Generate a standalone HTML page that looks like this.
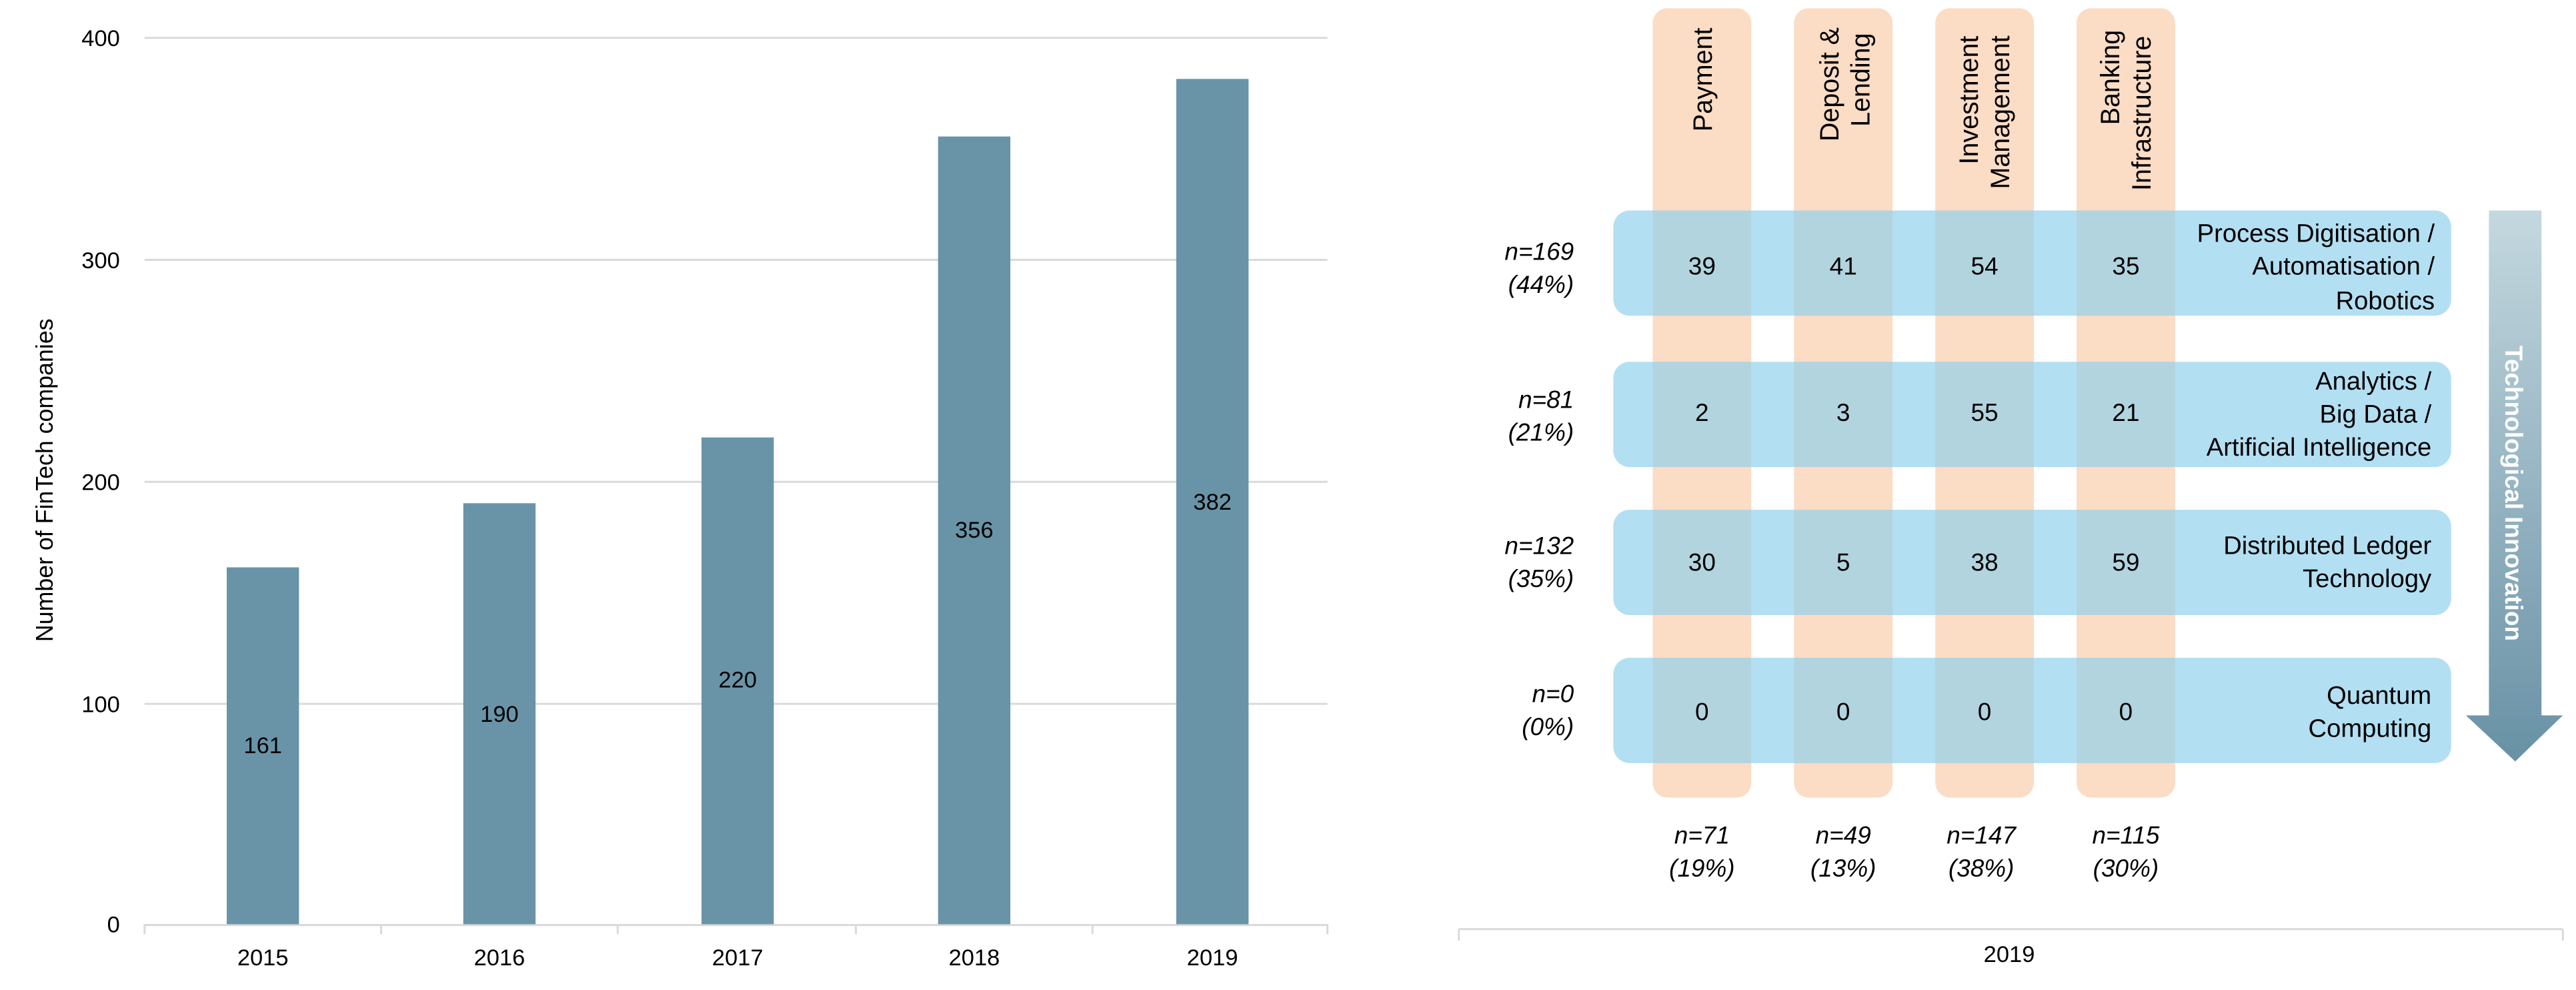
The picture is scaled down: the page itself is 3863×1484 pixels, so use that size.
<!DOCTYPE html>
<html><head><meta charset="utf-8"><style>
html,body{margin:0;padding:0;background:#fff;}
svg{display:block;}
text{font-family:"Liberation Sans",sans-serif;fill:#000;}
</style></head><body>
<svg width="3863" height="1484" viewBox="0 0 1568 602" preserveAspectRatio="none" xmlns="http://www.w3.org/2000/svg">
<defs>
<linearGradient id="ag" x1="0" y1="0" x2="0" y2="1">
<stop offset="0" stop-color="#c4d8df"/><stop offset="1" stop-color="#6891a5"/>
</linearGradient>
</defs>
<g stroke="#d9d9d9" stroke-width="1.2">
<line x1="88" y1="23" x2="808" y2="23"/>
<line x1="88" y1="158" x2="808" y2="158"/>
<line x1="88" y1="293" x2="808" y2="293"/>
<line x1="88" y1="428" x2="808" y2="428"/>
<line x1="88" y1="562.5" x2="808" y2="562.5"/>
<line x1="88" y1="562" x2="88" y2="568"/>
<line x1="232" y1="562" x2="232" y2="568"/>
<line x1="376" y1="562" x2="376" y2="568"/>
<line x1="521" y1="562" x2="521" y2="568"/>
<line x1="665" y1="562" x2="665" y2="568"/>
<line x1="808" y1="562" x2="808" y2="568"/>
</g>
<g font-size="14" text-anchor="end">
<text x="73" y="28">400</text><text x="73" y="163">300</text><text x="73" y="298">200</text><text x="73" y="433">100</text><text x="73" y="567">0</text>
</g>
<text transform="translate(32,292) rotate(-90)" font-size="14.5" text-anchor="middle">Number of FinTech companies</text>
<g fill="#6994a8">
<rect x="138" y="345" width="44" height="217"/>
<rect x="282" y="306" width="44" height="256"/>
<rect x="427" y="266" width="44" height="296"/>
<rect x="571" y="83" width="44" height="479"/>
<rect x="716" y="48" width="44" height="514"/>
</g>
<g font-size="14" text-anchor="middle">
<text x="160" y="458">161</text><text x="304" y="439">190</text><text x="449" y="418">220</text><text x="593" y="327">356</text><text x="738" y="310">382</text>
<text x="160" y="587">2015</text><text x="304" y="587">2016</text><text x="449" y="587">2017</text><text x="593" y="587">2018</text><text x="738" y="587">2019</text>
</g>
<g fill="#fbdcc4">
<rect x="1006" y="5" width="60" height="480" rx="9"/>
<rect x="1092" y="5" width="60" height="480" rx="9"/>
<rect x="1178" y="5" width="60" height="480" rx="9"/>
<rect x="1264" y="5" width="60" height="480" rx="9"/>
</g>
<g fill="rgb(143,208,236)" fill-opacity="0.68">
<rect x="982" y="128" width="510" height="64" rx="10"/>
<rect x="982" y="220" width="510" height="64" rx="10"/>
<rect x="982" y="310" width="510" height="64" rx="10"/>
<rect x="982" y="400" width="510" height="64" rx="10"/>
</g>
<g font-size="16">
<text transform="translate(1042,80) rotate(-90)">Payment</text>
<text transform="translate(1119,86) rotate(-90)">Deposit &amp;</text>
<text transform="translate(1138,77) rotate(-90)">Lending</text>
<text transform="translate(1204,100) rotate(-90)">Investment</text>
<text transform="translate(1223,115) rotate(-90)">Management</text>
<text transform="translate(1290,76) rotate(-90)">Banking</text>
<text transform="translate(1309,116) rotate(-90)">Infrastructure</text>
</g>
<g font-size="15" text-anchor="middle">
<text x="1036" y="167">39</text><text x="1122" y="167">41</text><text x="1208" y="167">54</text><text x="1294" y="167">35</text>
<text x="1036" y="256">2</text><text x="1122" y="256">3</text><text x="1208" y="256">55</text><text x="1294" y="256">21</text>
<text x="1036" y="347">30</text><text x="1122" y="347">5</text><text x="1208" y="347">38</text><text x="1294" y="347">59</text>
<text x="1036" y="438">0</text><text x="1122" y="438">0</text><text x="1208" y="438">0</text><text x="1294" y="438">0</text>
</g>
<g font-size="15.5" text-anchor="end">
<text x="1482" y="147">Process Digitisation /</text>
<text x="1482" y="167">Automatisation /</text>
<text x="1482" y="188">Robotics</text>
<text x="1480" y="237">Analytics /</text>
<text x="1480" y="257">Big Data /</text>
<text x="1480" y="277">Artificial Intelligence</text>
<text x="1480" y="337">Distributed Ledger</text>
<text x="1480" y="357">Technology</text>
<text x="1480" y="428">Quantum</text>
<text x="1480" y="448">Computing</text>
</g>
<g font-size="15" font-style="italic" text-anchor="end">
<text x="958" y="158">n=169</text><text x="958" y="178">(44%)</text>
<text x="958" y="248">n=81</text><text x="958" y="268">(21%)</text>
<text x="958" y="337">n=132</text><text x="958" y="357">(35%)</text>
<text x="958" y="427">n=0</text><text x="958" y="447">(0%)</text>
</g>
<g font-size="15" font-style="italic" text-anchor="middle">
<text x="1036" y="513">n=71</text><text x="1036" y="533">(19%)</text>
<text x="1122" y="513">n=49</text><text x="1122" y="533">(13%)</text>
<text x="1206" y="513">n=147</text><text x="1206" y="533">(38%)</text>
<text x="1294" y="513">n=115</text><text x="1294" y="533">(30%)</text>
</g>
<polygon points="1515,128 1547,128 1547,435 1560,435 1531,463 1501,435 1515,435" fill="url(#ag)"/>
<text transform="translate(1525,300) rotate(90)" font-size="15" font-weight="bold" text-anchor="middle" style="fill:#fff">Technological Innovation</text>
<g stroke="#d9d9d9" stroke-width="1.2">
<line x1="888" y1="565" x2="1560" y2="565"/>
<line x1="888" y1="565" x2="888" y2="572"/>
<line x1="1560" y1="565" x2="1560" y2="572"/>
</g>
<text x="1223" y="585" font-size="14" text-anchor="middle">2019</text>
</svg>
</body></html>
